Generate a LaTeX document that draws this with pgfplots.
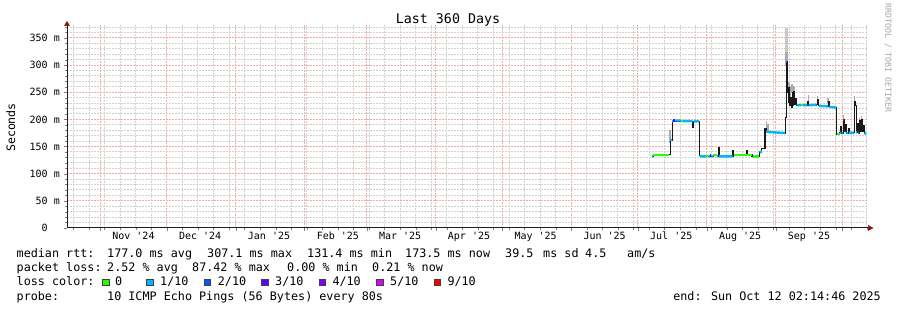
\documentclass[border=0pt]{standalone}
\usepackage{fontspec}
\setmainfont{DejaVu Sans Mono}
\usepackage{pgfplots}
\pgfplotsset{compat=1.18}
\definecolor{mgrid}{RGB}{245,170,170}
\definecolor{ngrid}{RGB}{210,210,210}
\definecolor{arrowred}{RGB}{140,25,25}
\definecolor{axiscol}{RGB}{30,30,30}
\definecolor{loss0}{HTML}{26FF00}
\definecolor{loss1}{HTML}{00B8FF}
\definecolor{loss2}{HTML}{0059FF}
\definecolor{loss3}{HTML}{5E00FF}
\definecolor{loss4}{HTML}{7E00FF}
\definecolor{loss5}{HTML}{DD00FF}
\definecolor{loss9}{HTML}{FF0000}
\definecolor{smoke}{RGB}{170,170,170}
\definecolor{smokelight}{RGB}{200,200,200}
\newcommand{\q}{\textquotesingle}
\newcommand{\legfont}{\fontsize{11.75bp}{14bp}\selectfont}
\begin{document}
\begin{tikzpicture}
\path[use as bounding box] (0bp,0bp) rectangle (897bp,310bp);
\begin{axis}[
  at={(67bp,82bp)}, anchor=south west,
  scale only axis, width=800bp, height=203bp,
  xmin=0.093, xmax=360.093, ymin=0, ymax=373.9,
  axis line style={draw=none},
  tick pos=left,
  tick align=outside,
  major tick length=3bp, minor tick length=2bp,
  xtick={15,45,76,107,135,166,196,227,257,288,319,349},
  xticklabels={},
  minor xtick={3,10,17,24,31,38,52,59,66,73,80,87,94,101,108,115,122,129,136,143,150,157,164,171,178,185,192,199,206,213,220,234,241,248,255,262,269,276,283,290,297,304,311,318,325,332,339,346,353,360},
  extra x ticks={30,60,91,122,150,181,211,242,272,303,334},
  extra x tick labels={Nov \q24,Dec \q24,Jan \q25,Feb \q25,Mar \q25,Apr \q25,May \q25,Jun \q25,Jul \q25,Aug \q25,Sep \q25},
  extra x tick style={grid=none, major tick length=0pt},
  ytick={0,50,100,150,200,250,300,350},
  yticklabels={0\hphantom{mm},50 m,100 m,150 m,200 m,250 m,300 m,350 m},
  minor ytick={10,20,30,40,60,70,80,90,110,120,130,140,160,170,180,190,210,220,230,240,260,270,280,290,310,320,330,340,360,370},
  grid=both,
  every minor grid/.style={draw=ngrid, line width=1bp, dash pattern=on 1.5bp off 1.5bp},
  every major grid/.style={draw=mgrid, line width=1bp, dash pattern=on 1.5bp off 1.5bp},
  xticklabel style={font=\fontsize{10bp}{12bp}\selectfont, anchor=north, inner sep=0pt, yshift=-4bp},
  yticklabel style={font=\fontsize{10bp}{12bp}\selectfont, anchor=east, inner sep=0pt, xshift=-4bp},
]
% smoke
\addplot[smoke, line width=1.5bp, unbounded coords=jump] coordinates {
(271.4,156) (271.4,180) (271.4,nan)
(314.9,178) (314.9,197) (314.9,nan)
(315.6,178) (315.6,192) (315.6,nan)
(324.3,250) (324.3,275) (324.3,nan)
(325.0,255) (325.0,268) (325.0,nan)
(325.7,238) (325.7,262) (325.7,nan)
(326.4,248) (326.4,265) (326.4,nan)
(327.2,250) (327.2,262) (327.2,nan)
(333.7,230) (333.7,245) (333.7,nan)
(337.8,233) (337.8,243) (337.8,nan)
(342.6,230) (342.6,240) (342.6,nan)
(349.5,198) (349.5,208) (349.5,nan)
(354.4,232) (354.4,243) (354.4,nan)
(356.7,195) (356.7,203) (356.7,nan)
(357.6,198) (357.6,207)
};
\addplot[smokelight, line width=2.5bp] coordinates {(323.9,300) (323.9,368)};
\addplot[smoke, line width=2.5bp] coordinates {(323.9,300) (323.9,325)};
% median (black)
\addplot[const plot, color=black!90, line width=1.1bp] coordinates {
(263.3,131.5) (263.8,134) (264.3,135) (271.3,135) (271.5,162) (272.4,197)
(276.0,198) (278.0,196.5) (281.0,196) (281.7,186) (282.1,196) (284.5,196.5)
(284.9,133) (288,132) (291,133) (293.1,149) (293.5,132) (296,131.5)
(299.8,142) (300.2,135) (305.9,142) (306.3,135) (308.3,132) (311.8,141)
(312.8,147) (314.2,184) (314.7,177) (316,176) (319,175.5) (323.2,175)
(323.5,203) (323.9,306) (324.3,250) (324.6,232) (325.0,258) (325.3,226)
(325.7,240) (326.0,222) (326.4,250) (326.8,226) (327.2,252) (327.6,228)
(328.0,238) (328.4,226) (331,226) (333.5,232) (333.9,226) (337.5,227)
(338.0,236) (338.4,225) (342,224) (342.6,232) (343.0,223) (346.1,222)
(346.4,173) (347.9,176) (348.4,186) (348.8,175) (349.4,199) (349.9,178)
(350.4,190) (350.8,175) (351.6,184) (352.0,175) (354.0,176) (354.3,233)
(354.8,226) (355.2,176) (355.8,192) (356.2,175) (356.7,198) (357.1,178)
(357.6,200) (358.0,178) (358.5,188) (358.9,175) (359.6,173)
};
% loss colours
\addplot[loss1, line width=2.4bp, unbounded coords=jump] coordinates {
(263.3,132) (263.8,132) (263.8,nan)
(271.5,162) (272.3,162) (272.3,nan)
(272.4,197) (272.8,197) (272.8,nan)
(273.7,198) (276.3,198) (276.3,nan)
(277.2,197) (281.6,196.5) (281.6,nan)
(282.2,196.5) (284.5,196.5) (284.5,nan)
(284.9,132) (287.8,132) (287.8,nan)
(288.7,132) (289.4,132) (289.4,nan)
(290.1,132.5) (290.8,132.5) (290.8,nan)
(292.6,132) (293.0,132) (293.0,nan)
(293.5,132) (299.6,132) (299.6,nan)
(311.8,139) (312.8,141) (312.8,nan)
(314.7,177) (323.2,175) (323.2,nan)
(328.4,226) (330.5,226) (330.5,nan)
(331.2,226) (333.3,226) (333.3,nan)
(333.9,226) (337.4,227) (337.4,nan)
(338.4,225) (342.4,224) (342.4,nan)
(343.0,223) (346.1,222) (346.1,nan)
(348.0,175) (348.4,175) (348.4,nan)
(348.8,175) (349.3,175) (349.3,nan)
(350.0,177) (350.4,177) (350.4,nan)
(350.8,175) (351.5,175) (351.5,nan)
(352.0,175) (354.1,176) (354.1,nan)
(355.2,176) (355.7,176) (355.7,nan)
(356.2,175) (356.6,175) (356.6,nan)
(358.9,175) (359.6,173)
};
\addplot[loss0, line width=2.4bp, unbounded coords=jump] coordinates {
(263.8,135) (271.2,135) (271.2,nan)
(276.3,197.5) (277.2,197.5) (277.2,nan)
(287.8,133) (288.7,133) (288.7,nan)
(290.8,134) (292.6,134) (292.6,nan)
(300.2,135) (305.9,135) (305.9,nan)
(306.3,135) (308.3,135) (308.3,nan)
(308.8,132) (311.6,132) (311.6,nan)
(330.5,226) (331.2,226) (331.2,nan)
(346.4,172.6) (347.9,172.6)
};
\addplot[loss3, line width=2.4bp, unbounded coords=jump] coordinates {
(272.8,198) (273.7,198) (273.7,nan)
(289.4,134) (290.1,134) (290.1,nan)
(308.3,134) (308.8,134)
};
\addplot[loss2, line width=2.4bp] coordinates {(323.75,306) (324.05,306)};
\addplot[loss9, line width=2.4bp] coordinates {(349.3,199) (349.7,199)};
\end{axis}
% axes with arrows
\draw[axiscol, line width=1bp] (67bp,82bp) -- (869bp,82bp);
\draw[axiscol, line width=1bp] (67bp,82bp) -- (67bp,285bp);
\fill[arrowred] (868bp,85bp) -- (873.5bp,82bp) -- (868bp,79bp) -- cycle;
\fill[arrowred] (64bp,284bp) -- (67bp,289bp) -- (70bp,284bp) -- cycle;
% title and labels
\node[anchor=base, inner sep=0pt, font=\fontsize{13.3bp}{15bp}\selectfont] at (448bp,286.5bp) {Last 360 Days};
\node[rotate=90, anchor=base, inner sep=0pt, font=\fontsize{11.6bp}{14bp}\selectfont] at (15bp,182.5bp) {Seconds};
\node[rotate=-90, inner sep=0pt, text=black!35, font=\fontsize{8.3bp}{10bp}\selectfont] at (888bp,252bp) {RRDTOOL / TOBI OETIKER};
% legend lines
\begin{scope}[every node/.style={anchor=base west, inner sep=0pt, font=\legfont}]
\node at (16.5bp,52.5bp) {median rtt:};
\node at (107bp,52.5bp) {177.0 ms avg};
\node at (207bp,52.5bp) {307.1 ms max};
\node at (307bp,52.5bp) {131.4 ms min};
\node at (405bp,52.5bp) {173.5 ms now};
\node at (505bp,52.5bp) {39.5};
\node at (543bp,52.5bp) {ms sd};
\node at (585bp,52.5bp) {4.5};
\node at (627bp,52.5bp) {am/s};
\node at (16.5bp,38.3bp) {packet loss:};
\node at (107bp,38.3bp) {2.52 \% avg};
\node at (192bp,38.3bp) {87.42 \% max};
\node at (287bp,38.3bp) {0.00 \% min};
\node at (372bp,38.3bp) {0.21 \% now};
\node at (16.5bp,24.2bp) {loss color:};
\node at (115bp,24.2bp) {0};
\node at (160bp,24.2bp) {1/10};
\node at (217.7bp,24.2bp) {2/10};
\node at (275bp,24.2bp) {3/10};
\node at (332.3bp,24.2bp) {4/10};
\node at (390bp,24.2bp) {5/10};
\node at (447.3bp,24.2bp) {9/10};
\node at (16.5bp,10bp) {probe:};
\node at (107bp,10bp) {10 ICMP Echo Pings (56 Bytes) every 80s};
\node[anchor=base east] at (881bp,10bp) {end: Sun Oct 12 02:14:46 2025};
\end{scope}
\foreach \bx/\bc in {102.7/loss0,146.7/loss1,204.3/loss2,261.7/loss3,319/loss4,376.7/loss5,434/loss9}{
  \filldraw[fill=\bc, draw=black!75, line width=0.7bp] (\bx bp,24.8bp) rectangle ++(6.3bp,6.3bp);
}
\end{tikzpicture}
\end{document}
